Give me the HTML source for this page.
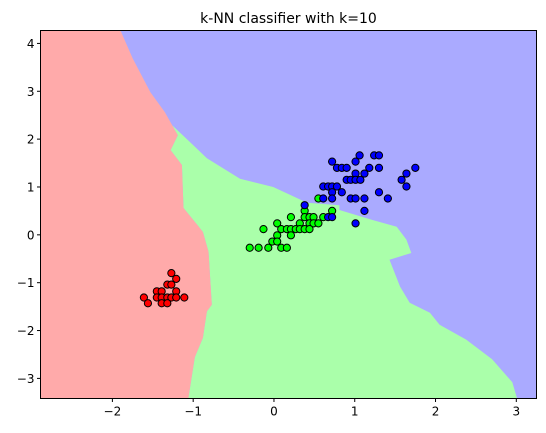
<!DOCTYPE html>
<html><head><meta charset="utf-8"><style>
html,body{margin:0;padding:0;background:#fff;}
svg{display:block;font-family:"DejaVu Sans","Liberation Sans",sans-serif;}
</style></head><body>
<svg id="chart" width="546" height="433" viewBox="0 0 546 433" xmlns="http://www.w3.org/2000/svg"></svg>
<script>
const xTicks=[-2,-1,0,1,2,3];
const yTicks=[-3,-2,-1,0,1,2,3,4];
const redBlue=[[-1.90,4.27],[-1.75,3.69],[-1.53,2.98],[-1.35,2.56],[-1.26,2.29]];
const redGreen=[[-1.19,2.08],[-1.28,1.77],[-1.14,1.46],[-1.12,0.56],[-0.95,0.21],[-0.88,0.06],[-0.81,-0.35],[-0.77,-1.46],[-0.83,-1.60],[-0.88,-2.15],[-0.98,-2.56],[-1.06,-3.42]];
const blueGreen=[[-1.04,1.94],[-0.83,1.60],[-0.42,1.17],[-0.01,1.00],[0.41,0.67],[0.81,0.62],[0.81,0.52],[1.22,0.31],[1.52,0.17],[1.64,-0.10],[1.70,-0.38],[1.43,-0.52],[1.56,-1.08],[1.68,-1.42],[1.93,-1.63],[2.05,-1.88],[2.38,-2.19],[2.70,-2.60],[2.95,-3.08],[3.01,-3.42]];
const redX=[-1.27,-1.21,-1.32,-1.27,-1.45,-1.39,-1.21,-1.61,-1.45,-1.39,-1.32,-1.27,-1.21,-1.11,-1.56,-1.39,-1.32];
const redY=[-0.80,-0.92,-1.04,-1.04,-1.18,-1.18,-1.18,-1.31,-1.31,-1.31,-1.31,-1.31,-1.31,-1.31,-1.43,-1.43,-1.43];
const greenX=[0.55,0.38,0.72,0.21,0.38,0.44,0.49,0.61,0.04,0.32,0.44,0.49,0.55,-0.13,0.09,0.16,0.21,0.27,0.32,0.38,0.44,0.04,0.21,-0.02,0.04,-0.30,-0.19,-0.07,0.09,0.16];
const greenY=[0.76,0.50,0.50,0.37,0.37,0.37,0.37,0.37,0.24,0.24,0.24,0.24,0.24,0.12,0.12,0.12,0.12,0.12,0.12,0.12,0.12,-0.01,-0.01,-0.14,-0.14,-0.27,-0.27,-0.27,-0.27,-0.27];
const blueX=[1.06,1.24,1.30,0.72,1.01,0.78,0.84,0.90,1.18,1.30,1.75,1.01,1.12,1.64,0.90,0.95,1.01,1.07,1.58,0.61,0.67,0.72,0.78,1.64,0.72,0.84,1.30,0.61,0.72,0.95,1.01,1.12,1.41,1.12,0.67,0.72,1.01,0.38];
const blueY=[1.66,1.66,1.66,1.53,1.53,1.40,1.40,1.40,1.40,1.40,1.40,1.28,1.28,1.28,1.15,1.15,1.15,1.15,1.15,1.01,1.01,1.01,1.01,1.01,0.89,0.89,0.89,0.76,0.76,0.76,0.76,0.76,0.76,0.50,0.37,0.37,0.24,0.62];

const NS="http://www.w3.org/2000/svg";
const svg=document.getElementById('chart');
const L=40.5,R=536.5,T=30.5,B=398.5;
const xmin=-2.89,xmax=3.25,ymin=-3.42,ymax=4.27;
const sx=v=>L+(v-xmin)/(xmax-xmin)*(R-L);
const sy=v=>B-(v-ymin)/(ymax-ymin)*(B-T);
function mk(tag,attrs){const e=document.createElementNS(NS,tag);for(const k in attrs)e.setAttribute(k,attrs[k]);svg.appendChild(e);return e;}
const pts=a=>a.map(p=>sx(p[0]).toFixed(1)+','+sy(p[1]).toFixed(1)).join(' ');

let e=mk('rect',{x:L,y:T,width:R-L,height:B-T,fill:'#aaaaff'});


const greenFull=[[-1.26,2.29],...redGreen,[3.01,-3.42],...[...blueGreen].reverse()];
e=mk('polygon',{points:pts(greenFull),fill:'#aaffaa'});


const redFull=[[xmin,ymax],...redBlue,...redGreen,[xmin,ymin]];
e=mk('polygon',{points:pts(redFull),fill:'#ffaaaa'});



function dots(xs,ys,col,name){xs.forEach((x,i)=>{const c=mk('circle',{cx:sx(x),cy:sy(ys[i]),r:3.6,fill:col,stroke:'#000','stroke-width':1});

});}
dots(redX,redY,'#ff0000','red-point');
dots(greenX,greenY,'#00ff00','green-point');
dots(blueX,blueY,'#0000ff','blue-point');

e=mk('rect',{x:L,y:T,width:R-L,height:B-T,fill:'none',stroke:'#000','stroke-width':1});


xTicks.forEach(t=>{const x=sx(t);
let l=mk('line',{x1:x,x2:x,y1:B,y2:B+3.5,stroke:'#000'});


let tx=mk('text',{x:x,y:B+17,'font-size':12,'text-anchor':'middle',fill:'#000'});tx.textContent=t<0?'\u2212'+(-t):t;

});
yTicks.forEach(t=>{const y=sy(t);
let l=mk('line',{x1:L-3.5,x2:L,y1:y,y2:y,stroke:'#000'});


let tx=mk('text',{x:L-6,y:y+4.5,'font-size':12,'text-anchor':'end',fill:'#000'});tx.textContent=t<0?'\u2212'+(-t):t;

});
let title=mk('text',{x:(L+R)/2,y:23,'font-size':14,'text-anchor':'middle',fill:'#000'});
title.textContent='k-NN classifier with k=10';


</script>
</body></html>
